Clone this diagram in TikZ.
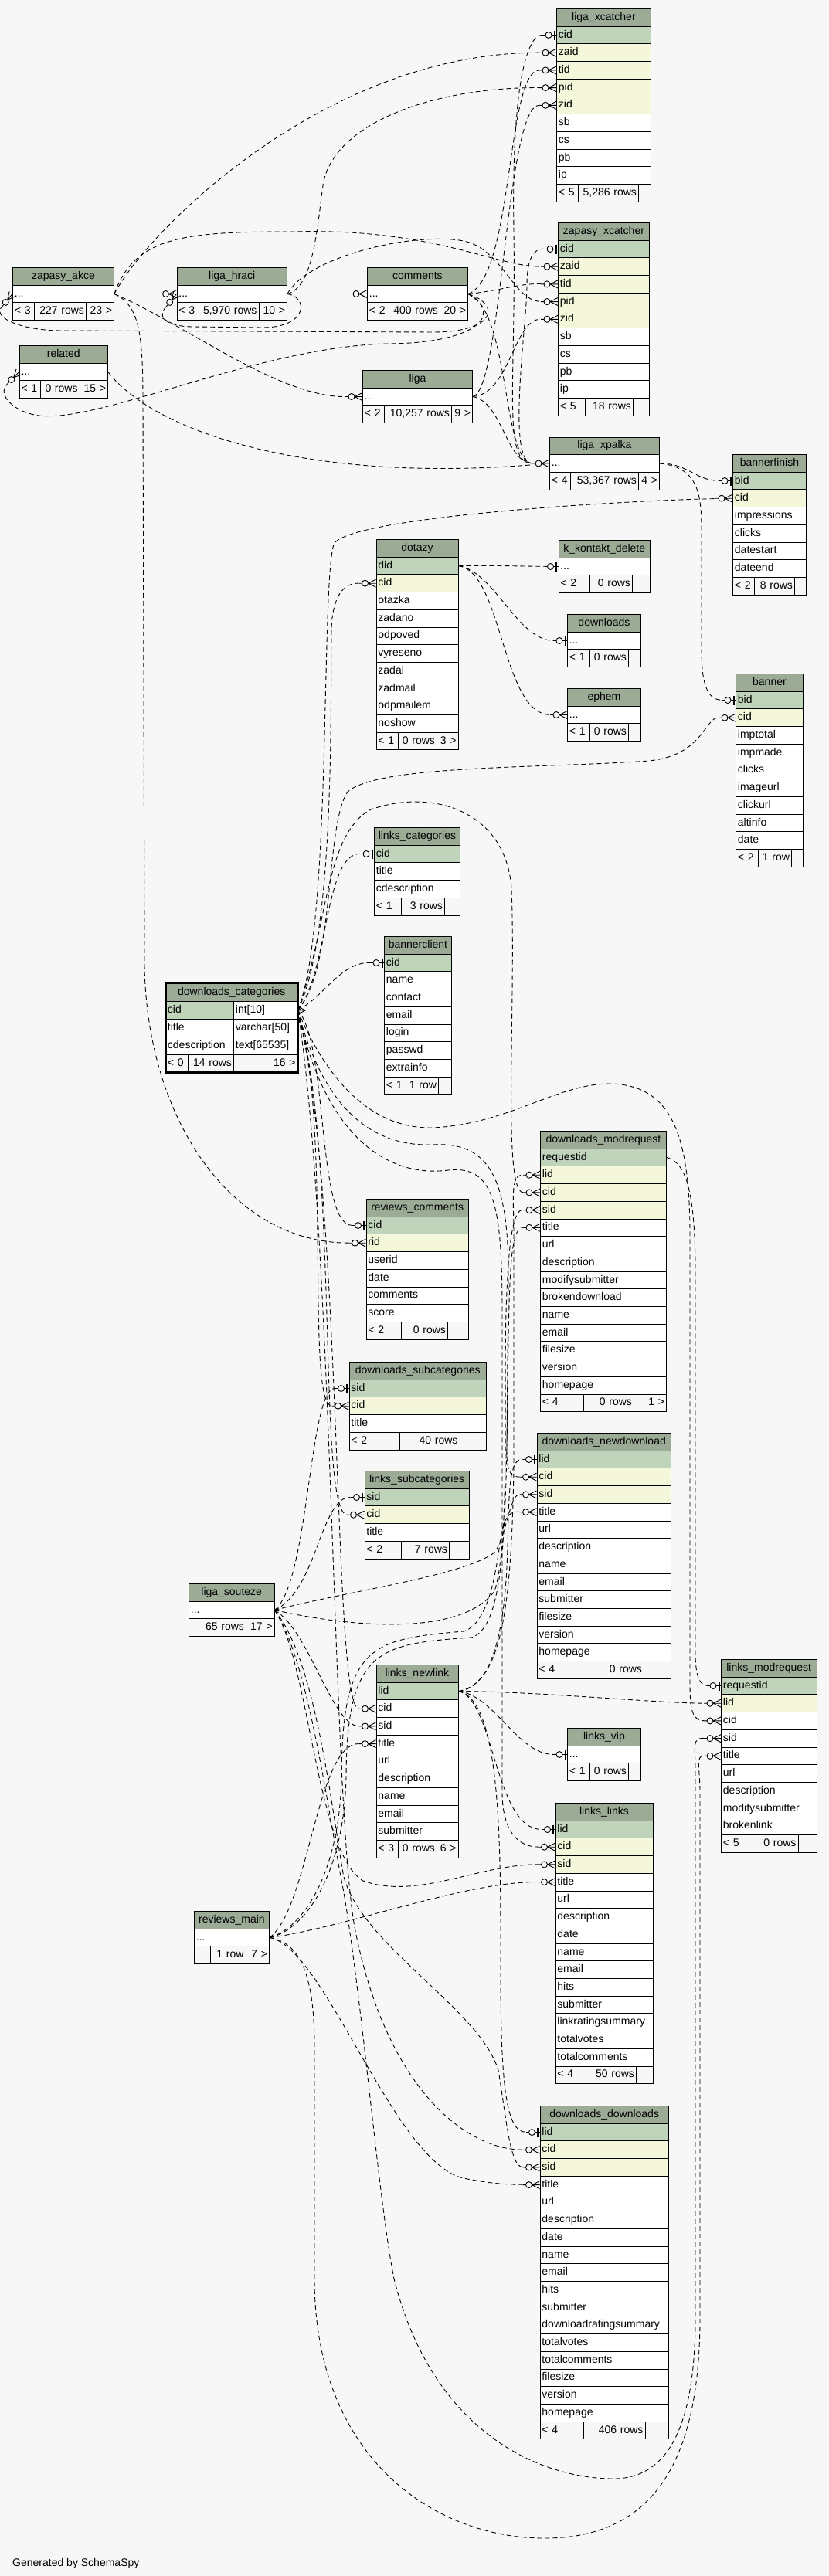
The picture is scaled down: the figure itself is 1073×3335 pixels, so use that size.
\documentclass[tikz,border=0pt]{standalone}
\usepackage{fontspec}
\setmainfont{Liberation Sans}
\usetikzlibrary{calc}
\definecolor{bgc}{HTML}{F7F7F7}
\definecolor{hdc}{HTML}{9BAB96}
\definecolor{pkc}{HTML}{BFD4BB}
\definecolor{fkc}{HTML}{F4F7DA}
\pgfdeclarelayer{back}
\pgfdeclarelayer{edges}
\pgfsetlayers{back,edges,main}
\tikzset{
 cellb/.style={draw=black, line width=0.9pt, minimum height=22.7pt, inner xsep=2.5pt, inner ysep=0pt, text height=10.2pt, text depth=3pt, anchor=north west, align=left},
 hdb/.style={cellb, fill=hdc, align=center},
 pkb/.style={cellb, fill=pkc},
 fkb/.style={cellb, fill=fkc},
 plb/.style={cellb, fill=white},
 ftl/.style={cellb, fill=bgc, align=left},
 ftr/.style={cellb, fill=bgc, align=right},
 rel/.style={draw=black, line width=0.9pt, dash pattern=on 6pt off 4pt},
 tm/.style={shorten >=22pt},
 t1/.style={shorten >=18pt},
 sm/.style={shorten <=22pt},
 many/.pic={\draw[line width=0.9pt] (-10,0)--(0,-5) (-10,0)--(0,5) (-10,0)--(0,0) (-22,0)--(-18,0); \draw[line width=0.9pt] (-14,0) circle[radius=4pt];},
 one/.pic={\draw[line width=2pt] (-2.5,-6)--(-2.5,6); \draw[line width=0.9pt] (-6,0)--(0,0) (-18,0)--(-14,0); \draw[line width=0.9pt] (-10,0) circle[radius=4pt];},
 crow/.pic={\draw[line width=0.9pt] (-10,0)--(0,-5) (-10,0)--(0,5) (-10,0)--(0,0);},
}
\newcommand{\TBL}[4]{\xdef\Tx{#1}\xdef\Cy{#2}\xdef\Tw{#3}\xdef\Tn{#4}}
\newcommand{\ROW}[3]{\node[#1,text width=\Tw pt-5pt] (\Tn-#2) at (\Tx,\Cy) {#3};\pgfmathsetmacro\Tmpy{\Cy+22.7}\xdef\Cy{\Tmpy}}
\newcommand{\FOOT}[6]{%
 \node[ftl,text width=#1pt-5pt] (\Tn-f1) at (\Tx,\Cy) {#2};%
 \pgfmathsetmacro\Xb{\Tx+#1}%
 \node[ftr,text width=#3pt-5pt] (\Tn-f2) at (\Xb,\Cy) {#4};%
 \pgfmathsetmacro\Xc{\Tx+#1+#3}%
 \node[ftr,text width=#5pt-5pt] (\Tn-f3) at (\Xc,\Cy) {#6};}
\begin{document}
\begin{tikzpicture}[x=1pt,y=-1pt,font=\fontsize{14}{16}\selectfont]
\begin{pgfonlayer}{back}
\fill[bgc] (0,0) rectangle (1073,3335);
\end{pgfonlayer}
\useasboundingbox (0,0) rectangle (1073,3335);

% ---------- tables ----------
\TBL{720}{11}{122}{lx}
\ROW{hdb}{h}{liga\_xcatcher}\ROW{pkb}{cid}{cid}\ROW{fkb}{zaid}{zaid}\ROW{fkb}{tid}{tid}\ROW{fkb}{pid}{pid}\ROW{fkb}{zid}{zid}
\ROW{plb}{sb}{sb}\ROW{plb}{cs}{cs}\ROW{plb}{pb}{pb}\ROW{plb}{ip}{ip}
\FOOT{28}{< 5}{78}{5,286 rows}{16}{}

\TBL{722}{288}{118}{zx}
\ROW{hdb}{h}{zapasy\_xcatcher}\ROW{pkb}{cid}{cid}\ROW{fkb}{zaid}{zaid}\ROW{fkb}{tid}{tid}\ROW{fkb}{pid}{pid}\ROW{fkb}{zid}{zid}
\ROW{plb}{sb}{sb}\ROW{plb}{cs}{cs}\ROW{plb}{pb}{pb}\ROW{plb}{ip}{ip}
\FOOT{35}{< 5}{62}{18 rows}{21}{}

\TBL{16}{346}{131}{za}
\ROW{hdb}{h}{zapasy\_akce}\ROW{plb}{d}{...}
\FOOT{28}{< 3}{67}{227 rows}{36}{23 >}

\TBL{228.5}{346}{142.5}{lh}
\ROW{hdb}{h}{liga\_hraci}\ROW{plb}{d}{...}
\FOOT{28}{< 3}{78}{5,970 rows}{36.5}{10 >}

\TBL{475}{346}{130}{cm}
\ROW{hdb}{h}{comments}\ROW{plb}{d}{...}
\FOOT{28}{< 2}{66}{400 rows}{36}{20 >}

\TBL{24.6}{447}{114.4}{rl}
\ROW{hdb}{h}{related}\ROW{plb}{d}{...}
\FOOT{27.4}{< 1}{50.6}{0 rows}{36.4}{15 >}

\TBL{469}{479}{142}{lg}
\ROW{hdb}{h}{liga}\ROW{plb}{d}{...}
\FOOT{28}{< 2}{87}{10,257 rows}{27}{9 >}

\TBL{711}{565.5}{142}{lp}
\ROW{hdb}{h}{liga\_xpalka}\ROW{plb}{d}{...}
\FOOT{27}{< 4}{88}{53,367 rows}{27}{4 >}

\TBL{948}{588}{95}{bf}
\ROW{hdb}{h}{bannerfinish}\ROW{pkb}{bid}{bid}\ROW{fkb}{cid}{cid}\ROW{plb}{impressions}{impressions}
\ROW{plb}{clicks}{clicks}\ROW{plb}{datestart}{datestart}\ROW{plb}{dateend}{dateend}
\FOOT{28}{< 2}{52}{8 rows}{15}{}

\TBL{486.5}{698}{106}{dz}
\ROW{hdb}{h}{dotazy}\ROW{pkb}{did}{did}\ROW{fkb}{cid}{cid}\ROW{plb}{otazka}{otazka}\ROW{plb}{zadano}{zadano}
\ROW{plb}{odpoved}{odpoved}\ROW{plb}{vyreseno}{vyreseno}\ROW{plb}{zadal}{zadal}\ROW{plb}{zadmail}{zadmail}
\ROW{plb}{odpmailem}{odpmailem}\ROW{plb}{noshow}{noshow}
\FOOT{28}{< 1}{50.5}{0 rows}{27.5}{3 >}

\TBL{722.5}{699}{118.5}{kk}
\ROW{hdb}{h}{k\_kontakt\_delete}\ROW{plb}{d}{...}
\FOOT{40.5}{< 2}{55}{0 rows}{23}{}

\TBL{734}{795}{95}{dl}
\ROW{hdb}{h}{downloads}\ROW{plb}{d}{...}
\FOOT{29}{< 1}{50}{0 rows}{16}{}

\TBL{734}{891}{95}{ep}
\ROW{hdb}{h}{ephem}\ROW{plb}{d}{...}
\FOOT{29}{< 1}{50}{0 rows}{16}{}

\TBL{952}{872}{87}{bn}
\ROW{hdb}{h}{banner}\ROW{pkb}{bid}{bid}\ROW{fkb}{cid}{cid}\ROW{plb}{imptotal}{imptotal}\ROW{plb}{impmade}{impmade}
\ROW{plb}{clicks}{clicks}\ROW{plb}{imageurl}{imageurl}\ROW{plb}{clickurl}{clickurl}\ROW{plb}{altinfo}{altinfo}\ROW{plb}{date}{date}
\FOOT{28.5}{< 2}{43.5}{1 row}{15}{}

\TBL{484}{1071}{111}{lc}
\ROW{hdb}{h}{links\_categories}\ROW{pkb}{cid}{cid}\ROW{plb}{title}{title}\ROW{plb}{cdescription}{cdescription}
\FOOT{35}{< 1}{56}{3 rows}{20}{}

\TBL{497}{1212}{87}{bc}
\ROW{hdb}{h}{bannerclient}\ROW{pkb}{cid}{cid}\ROW{plb}{name}{name}\ROW{plb}{contact}{contact}\ROW{plb}{email}{email}
\ROW{plb}{login}{login}\ROW{plb}{passwd}{passwd}\ROW{plb}{extrainfo}{extrainfo}
\FOOT{28}{< 1}{42}{1 row}{17}{}

% downloads_categories (focus table)
\node[hdb, text width=170.5pt-5pt, minimum height=24pt] (dc-h) at (214,1272) {downloads\_categories};
\node[pkb, text width=88pt-5pt, minimum height=23pt] (dc-cidn) at (214,1296) {cid};
\node[plb, text width=82.5pt-5pt, minimum height=23pt] (dc-cid) at (302,1296) {int[10]};
\node[plb, text width=88pt-5pt, minimum height=23pt] (dc-titlen) at (214,1319) {title};
\node[plb, text width=82.5pt-5pt, minimum height=23pt] (dc-title) at (302,1319) {varchar[50]};
\node[plb, text width=88pt-5pt, minimum height=23pt] (dc-cdn) at (214,1342) {cdescription};
\node[plb, text width=82.5pt-5pt, minimum height=23pt] (dc-cd) at (302,1342) {text[65535]};
\node[ftl, text width=29pt-5pt, minimum height=23pt] (dc-f1) at (214,1365) {< 0};
\node[ftr, text width=59pt-5pt, minimum height=23pt] (dc-f2) at (243,1365) {14 rows};
\node[ftr, text width=82.5pt-5pt, minimum height=23pt] (dc-f3) at (302,1365) {16 >};
\draw[line width=3pt] (dc-h.north west) rectangle (dc-f3.south east);

\TBL{699}{1464}{163}{dm}
\ROW{hdb}{h}{downloads\_modrequest}\ROW{pkb}{requestid}{requestid}\ROW{fkb}{lid}{lid}\ROW{fkb}{cid}{cid}\ROW{fkb}{sid}{sid}
\ROW{plb}{title}{title}\ROW{plb}{url}{url}\ROW{plb}{description}{description}\ROW{plb}{modifysubmitter}{modifysubmitter}
\ROW{plb}{brokendownload}{brokendownload}\ROW{plb}{name}{name}\ROW{plb}{email}{email}\ROW{plb}{filesize}{filesize}
\ROW{plb}{version}{version}\ROW{plb}{homepage}{homepage}
\FOOT{56}{< 4}{65}{0 rows}{42}{1 >}

\TBL{473.5}{1552}{132.5}{rc}
\ROW{hdb}{h}{reviews\_comments}\ROW{pkb}{cid}{cid}\ROW{fkb}{rid}{rid}\ROW{plb}{userid}{userid}\ROW{plb}{date}{date}
\ROW{plb}{comments}{comments}\ROW{plb}{score}{score}
\FOOT{45.5}{< 2}{60}{0 rows}{27}{}

\TBL{451.5}{1763}{177.5}{ds}
\ROW{hdb}{h}{downloads\_subcategories}\ROW{pkb}{sid}{sid}\ROW{fkb}{cid}{cid}\ROW{plb}{title}{title}
\FOOT{65}{< 2}{78}{40 rows}{34.5}{}

\TBL{471.5}{1904}{135.5}{ls}
\ROW{hdb}{h}{links\_subcategories}\ROW{pkb}{sid}{sid}\ROW{fkb}{cid}{cid}\ROW{plb}{title}{title}
\FOOT{47.5}{< 2}{62}{7 rows}{26}{}

\TBL{694.5}{1855}{173.5}{dn}
\ROW{hdb}{h}{downloads\_newdownload}\ROW{pkb}{lid}{lid}\ROW{fkb}{cid}{cid}\ROW{fkb}{sid}{sid}\ROW{plb}{title}{title}
\ROW{plb}{url}{url}\ROW{plb}{description}{description}\ROW{plb}{name}{name}\ROW{plb}{email}{email}
\ROW{plb}{submitter}{submitter}\ROW{plb}{filesize}{filesize}\ROW{plb}{version}{version}\ROW{plb}{homepage}{homepage}
\FOOT{67.5}{< 4}{71}{0 rows}{35}{}

\TBL{244}{2050}{110.5}{so}
\ROW{hdb}{h}{liga\_souteze}\ROW{plb}{d}{...}
\FOOT{16.7}{}{57.3}{65 rows}{36.5}{17 >}

\TBL{486.5}{2155}{106}{nl}
\ROW{hdb}{h}{links\_newlink}\ROW{pkb}{lid}{lid}\ROW{plb}{cid}{cid}\ROW{plb}{sid}{sid}\ROW{plb}{title}{title}
\ROW{plb}{url}{url}\ROW{plb}{description}{description}\ROW{plb}{name}{name}\ROW{plb}{email}{email}\ROW{plb}{submitter}{submitter}
\FOOT{28}{< 3}{50.5}{0 rows}{27.5}{6 >}

\TBL{933}{2148}{123.5}{lm}
\ROW{hdb}{h}{links\_modrequest}\ROW{pkb}{requestid}{requestid}\ROW{fkb}{lid}{lid}\ROW{plb}{cid}{cid}\ROW{plb}{sid}{sid}
\ROW{plb}{title}{title}\ROW{plb}{url}{url}\ROW{plb}{description}{description}\ROW{plb}{modifysubmitter}{modifysubmitter}
\ROW{plb}{brokenlink}{brokenlink}
\FOOT{41}{< 5}{58.5}{0 rows}{24}{}

\TBL{734}{2237}{95}{lv}
\ROW{hdb}{h}{links\_vip}\ROW{plb}{d}{...}
\FOOT{29}{< 1}{50}{0 rows}{16}{}

\TBL{718.5}{2334}{126}{ll}
\ROW{hdb}{h}{links\_links}\ROW{pkb}{lid}{lid}\ROW{fkb}{cid}{cid}\ROW{fkb}{sid}{sid}\ROW{plb}{title}{title}
\ROW{plb}{url}{url}\ROW{plb}{description}{description}\ROW{plb}{date}{date}\ROW{plb}{name}{name}\ROW{plb}{email}{email}
\ROW{plb}{hits}{hits}\ROW{plb}{submitter}{submitter}\ROW{plb}{lrs}{linkratingsummary}\ROW{plb}{totalvotes}{totalvotes}
\ROW{plb}{totalcomments}{totalcomments}
\FOOT{39.5}{< 4}{65}{50 rows}{21.5}{}

\TBL{251}{2474}{97}{rm}
\ROW{hdb}{h}{reviews\_main}\ROW{plb}{d}{...}
\FOOT{21}{}{45.5}{1 row}{30.5}{7 >}

\TBL{698.5}{2726}{166.5}{dd}
\ROW{hdb}{h}{downloads\_downloads}\ROW{pkb}{lid}{lid}\ROW{fkb}{cid}{cid}\ROW{fkb}{sid}{sid}\ROW{plb}{title}{title}
\ROW{plb}{url}{url}\ROW{plb}{description}{description}\ROW{plb}{date}{date}\ROW{plb}{name}{name}\ROW{plb}{email}{email}
\ROW{plb}{hits}{hits}\ROW{plb}{submitter}{submitter}\ROW{plb}{drs}{downloadratingsummary}\ROW{plb}{totalvotes}{totalvotes}
\ROW{plb}{totalcomments}{totalcomments}\ROW{plb}{filesize}{filesize}\ROW{plb}{version}{version}\ROW{plb}{homepage}{homepage}
\FOOT{56}{< 4}{80}{406 rows}{30.5}{}

\node[anchor=base west, inner sep=0pt] (gen) at (16,3322) {Generated by SchemaSpy};

% ---------- connectors ----------
\begin{pgfonlayer}{edges}
% top cluster
\draw[rel,tm] (za-d.east) .. controls (190,300) and (420,68) .. (lx-zaid.west);
\draw[rel,tm] (za-d.east) .. controls (175,305) and (240,300) .. (380,300) .. controls (560,295) and (640,345) .. (zx-zaid.west);
\draw[rel,tm] (za-d.east) -- (lh-d.west);
\draw[rel,tm] (za-d.east) .. controls (240,420) and (360,514) .. (lg-d.west);
\draw[rel,tm] (za-d.east) .. controls (180,395) and (185,430) .. (185,520) -- (187,1250) .. controls (190,1450) and (300,1609) .. (rc-rid.west);
\draw[rel,tm] (cm-d.east) .. controls (665,360) and (655,91) .. (lx-tid.west);
\draw[rel,tm] (cm-d.east) .. controls (650,376) and (670,367) .. (zx-tid.west);
\draw[rel,tm] (cm-d.east) .. controls (650,395) and (640,430) .. (560,430) -- (80,428) .. controls (30,428) and (-10,412) .. (za-d.west);
\draw[rel,tm] (cm-d.east) .. controls (660,400) and (650,599.5) .. (lp-d.west);
\draw[rel,tm] (lh-d.east) -- (cm-d.west);
\draw[rel,tm] (lh-d.east) .. controls (405,372) and (410,300) .. (418,240) .. controls (430,160) and (560,113) .. (lx-pid.west);
\draw[rel,tm] (lh-d.east) .. controls (400,330) and (540,300) .. (600,312) .. controls (650,322) and (665,390) .. (zx-pid.west);
\draw[rel,tm] (lh-d.east) .. controls (400,385) and (398,424) .. (340,424) -- (250,423) .. controls (225,423) and (200,415) .. (lh-d.west);
\draw[rel,tm] (lg-d.east) .. controls (650,505) and (655,136) .. (lx-zid.west);
\draw[rel,tm] (lg-d.east) .. controls (660,510) and (665,413) .. (zx-zid.west);
\draw[rel,tm] (lg-d.east) .. controls (650,520) and (655,599.5) .. (lp-d.west);
\draw[rel,sm,t1] (lp-d.west) .. controls (650,599.5) and (668,500) .. (665,300) .. controls (662,120) and (680,45) .. (lx-cid.west);
\draw[rel,sm,t1] (lp-d.west) .. controls (655,599.5) and (682,420) .. (682,370) .. controls (682,335) and (690,322) .. (zx-cid.west);
\draw[rel,tm] (rl-d.east) .. controls (200,560) and (400,625) .. (lp-d.west);
\draw[rel,tm] (cm-d.east) .. controls (655,410) and (610,445) .. (500,445) .. controls (330,450) and (130,548) .. (50,538) .. controls (20,534) and (-5,512) .. (rl-d.west);
\draw[rel,t1] (lp-d.east) .. controls (890,599.5) and (900,622) .. (bf-bid.west);
\draw[rel,t1] (lp-d.east) .. controls (910,605) and (908,650) .. (908,700) -- (908,840) .. controls (908,885) and (915,906) .. (bn-bid.west);
% dotazy
\draw[rel,t1] (dz-did.east) .. controls (640,732) and (670,733) .. (kk-d.west);
\draw[rel,t1] (dz-did.east) .. controls (640,740) and (670,829) .. (dl-d.west);
\draw[rel,tm] (dz-did.east) .. controls (650,740) and (650,925) .. (ep-d.west);
% cid fan from downloads_categories
\draw[rel,tm] (dc-cid.east) .. controls (430,1200) and (415,760) .. (432,705) .. controls (445,670) and (800,648) .. (bf-cid.west);
\draw[rel,tm] (dc-cid.east) .. controls (435,1250) and (420,1070) .. (450,1025) .. controls (490,990) and (700,995) .. (840,985) .. controls (910,978) and (912,929) .. (bn-cid.west);
\draw[rel,tm] (dc-cid.east) .. controls (440,1200) and (425,830) .. (430,800) .. controls (434,770) and (445,755) .. (dz-cid.west);
\draw[rel,t1] (dc-cid.east) .. controls (425,1260) and (420,1105) .. (lc-cid.west);
\draw[rel,t1] (dc-cid.east) .. controls (420,1290) and (440,1246) .. (bc-cid.west);
\draw[rel,t1] (dc-cid.east) .. controls (425,1350) and (410,1586) .. (rc-cid.west);
\draw[rel,tm] (dc-cid.east) .. controls (425,1200) and (420,1080) .. (480,1048) .. controls (560,1020) and (655,1050) .. (662,1150) .. controls (668,1300) and (650,1543.5) .. (dm-cid.west);
\draw[rel,tm] (dc-cid.east) .. controls (430,1450) and (395,1820) .. (ds-cid.west);
\draw[rel,tm] (dc-cid.east) .. controls (440,1500) and (410,1961) .. (ls-cid.west);
\draw[rel,tm] (dc-cid.east) .. controls (415,1420) and (470,1485) .. (560,1482) .. controls (630,1478) and (658,1520) .. (658,1650) -- (656,1870) .. controls (655,1905) and (660,1912) .. (dn-cid.west);
\draw[rel,tm] (dc-cid.east) .. controls (445,1550) and (430,2212) .. (nl-cid.west);
\draw[rel,tm] (dc-cid.east) .. controls (420,1470) and (500,1525) .. (580,1515) .. controls (640,1508) and (650,1560) .. (650,1700) -- (650,2320) .. controls (650,2370) and (670,2391) .. (ll-cid.west);
\draw[rel,tm] (dc-cid.east) .. controls (432,1600) and (430,2350) .. (460,2500) .. controls (500,2700) and (600,2783) .. (dd-cid.west);
\draw[rel,tm] (dc-cid.east) .. controls (415,1380) and (470,1462) .. (560,1460) .. controls (660,1455) and (720,1403) .. (790,1403) .. controls (870,1405) and (893,1470) .. (893,1600) -- (893,2180) .. controls (893,2210) and (895,2227.5) .. (lm-cid.west);
\draw[rel,t1] (dm-requestid.east) .. controls (890,1505) and (900,1550) .. (900,1650) -- (900,2140) .. controls (900,2168) and (905,2182) .. (lm-requestid.west);
% liga_souteze
\draw[rel,t1] (so-d.east) .. controls (400,2050) and (400,1797) .. (ds-sid.west);
\draw[rel,t1] (so-d.east) .. controls (410,2060) and (415,1938) .. (ls-sid.west);
\draw[rel,tm] (so-d.east) .. controls (470,2110) and (600,2115) .. (640,2060) .. controls (660,2000) and (652,1800) .. (655,1700) .. controls (658,1600) and (665,1566) .. (dm-sid.west);
\draw[rel,tm] (so-d.east) .. controls (450,2060) and (600,2040) .. (640,2010) .. controls (655,1990) and (660,1934.5) .. (dn-sid.west);
\draw[rel,tm] (so-d.east) .. controls (400,2110) and (430,2234.5) .. (nl-sid.west);
\draw[rel,tm] (so-d.east) .. controls (400,2150) and (410,2400) .. (470,2435) .. controls (540,2460) and (620,2413.5) .. (ll-sid.west);
\draw[rel,tm] (so-d.east) .. controls (410,2150) and (430,2350) .. (445,2430) .. controls (470,2520) and (620,2600) .. (645,2680) .. controls (655,2740) and (660,2805.4) .. (dd-sid.west);
\draw[rel,tm] (so-d.east) .. controls (400,2150) and (425,2350) .. (445,2450) .. controls (470,2600) and (490,2850) .. (510,2950) .. controls (560,3150) and (700,3209) .. (794,3209) .. controls (870,3209) and (900,3130) .. (900,3000) -- (900,2290) .. controls (900,2262) and (895,2250) .. (lm-sid.west);
% reviews_main
\draw[rel,tm] (rm-d.east) .. controls (450,2495) and (600,2436) .. (ll-title.west);
\draw[rel,tm] (rm-d.east) .. controls (400,2470) and (410,2257) .. (nl-title.west);
\draw[rel,tm] (rm-d.east) .. controls (395,2495) and (440,2420) .. (442,2300) .. controls (443,2130) and (480,2122) .. (600,2112) .. controls (640,2100) and (645,2000) .. (650,1980) .. controls (655,1962) and (660,1957) .. (dn-title.west);
\draw[rel,tm] (rm-d.east) .. controls (398,2498) and (446,2420) .. (448,2300) .. controls (449,2135) and (490,2128) .. (610,2120) .. controls (650,2108) and (655,2000) .. (657,1800) .. controls (659,1650) and (660,1589) .. (dm-title.west);
\draw[rel,tm] (rm-d.east) .. controls (420,2520) and (510,2800) .. (600,2820) .. controls (640,2828) and (660,2828) .. (dd-title.west);
\draw[rel,tm] (rm-d.east) .. controls (390,2515) and (407,2560) .. (407,2650) -- (407,2950) .. controls (407,3180) and (560,3286) .. (705,3286) .. controls (850,3286) and (906,3180) .. (906,3000) -- (906,2320) .. controls (906,2290) and (900,2273) .. (lm-title.west);
% links_newlink
\draw[rel,tm] (nl-lid.east) .. controls (700,2190) and (850,2205) .. (lm-lid.west);
\draw[rel,t1] (nl-lid.east) .. controls (640,2195) and (670,2271) .. (lv-d.west);
\draw[rel,t1] (nl-lid.east) .. controls (640,2200) and (640,2368) .. (ll-lid.west);
\draw[rel,t1] (nl-lid.east) .. controls (640,2185) and (655,2100) .. (657,2000) .. controls (659,1920) and (660,1889) .. (dn-lid.west);
\draw[rel,tm] (nl-lid.east) .. controls (645,2180) and (662,2100) .. (665,1900) -- (665,1600) .. controls (665,1550) and (660,1521) .. (dm-lid.west);
\draw[rel,t1] (nl-lid.east) .. controls (650,2200) and (648,2400) .. (648,2550) .. controls (648,2700) and (655,2760) .. (dd-lid.west);
\end{pgfonlayer}

% ---------- end markers ----------
\pic at (lx-cid.west) {one};
\foreach \r in {zaid,tid,pid,zid} {\pic at (lx-\r.west) {many}; \pic at (zx-\r.west) {many};}
\pic at (zx-cid.west) {one};
\pic[rotate=51] at (za-d.west) {many};
\pic at (lh-d.west) {many};
\pic[rotate=51] at (lh-d.west) {many};
\pic at (cm-d.west) {many};
\pic[rotate=46] at (rl-d.west) {many};
\pic at (lg-d.west) {many};
\pic at (lp-d.west) {many};
\pic at (bf-bid.west) {one}; \pic at (bf-cid.west) {many};
\pic at (bn-bid.west) {one}; \pic at (bn-cid.west) {many};
\pic at (dz-cid.west) {many};
\pic at (kk-d.west) {one}; \pic at (dl-d.west) {one}; \pic at (ep-d.west) {many};
\pic at (lc-cid.west) {one}; \pic at (bc-cid.west) {one};
\pic at (rc-cid.west) {one}; \pic at (rc-rid.west) {many};
\foreach \r in {lid,cid,sid,title} {\pic at (dm-\r.west) {many};}
\pic at (ds-sid.west) {one}; \pic at (ds-cid.west) {many};
\pic at (ls-sid.west) {one}; \pic at (ls-cid.west) {many};
\pic at (dn-lid.west) {one};
\foreach \r in {cid,sid,title} {\pic at (dn-\r.west) {many}; \pic at (nl-\r.west) {many}; \pic at (ll-\r.west) {many}; \pic at (dd-\r.west) {many};}
\pic at (lm-requestid.west) {one};
\foreach \r in {lid,cid,sid,title} {\pic at (lm-\r.west) {many};}
\pic at (lv-d.west) {one};
\pic at (ll-lid.west) {one};
\pic at (dd-lid.west) {one};
\pic[xscale=-1] at (dc-cid.east) {crow};
\end{tikzpicture}
\end{document}
